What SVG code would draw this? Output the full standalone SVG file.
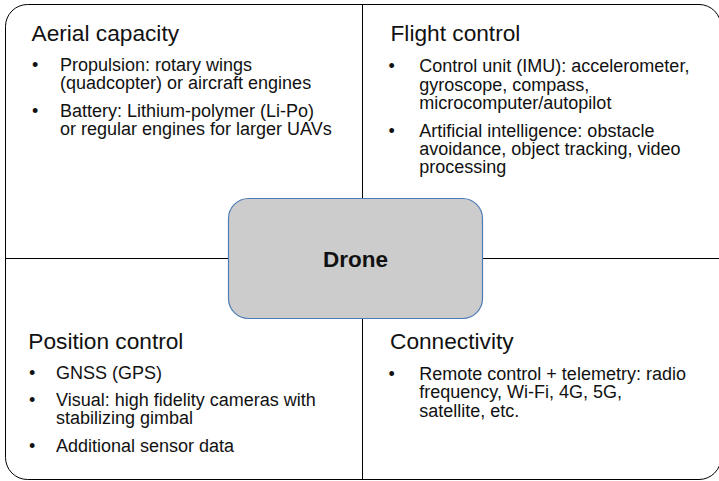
<svg xmlns="http://www.w3.org/2000/svg" width="719" height="481" viewBox="0 0 719 481">
<style>
text{font-family:"Liberation Sans",Arial,sans-serif;fill:#111}
.t{font-size:22.7px}
.b{font-size:18px}
.ln{stroke:#000;stroke-width:1;fill:none}
.hub{fill:#cccccc;stroke:#4f7bb5;stroke-width:1.2}
.lbl{font-size:22.5px;font-weight:bold;text-anchor:middle}
</style>
<rect width="719" height="481" fill="#fff"/>
<g id="connectors">
<rect class="ln" x="5.5" y="4.5" width="715.5" height="475" rx="22" ry="22"/>
<line class="ln" x1="362.5" y1="4.5" x2="362.5" y2="479.5"/>
<line class="ln" x1="5.5" y1="258.5" x2="719" y2="258.5"/>
</g>
<g id="aerial">
<text class="t" x="31.5" y="40.5">Aerial capacity</text>
<text class="b" x="32" y="70.5">•</text>
<text class="b" x="60" y="70.5">Propulsion: rotary wings</text>
<text class="b" x="60" y="89">(quadcopter) or aircraft engines</text>
<text class="b" x="32" y="116.7">•</text>
<text class="b" x="60" y="116.7">Battery: Lithium-polymer (Li-Po)</text>
<text class="b" x="60" y="135">or regular engines for larger UAVs</text>
</g>
<g id="flight">
<text class="t" x="390.5" y="40.5">Flight control</text>
<text class="b" x="388.5" y="71.5">•</text>
<text class="b" x="419.3" y="71.5">Control unit (IMU): accelerometer,</text>
<text class="b" x="419.3" y="90.5">gyroscope, compass,</text>
<text class="b" x="419.3" y="109.3">microcomputer/autopilot</text>
<text class="b" x="388.5" y="136.7">•</text>
<text class="b" x="419.3" y="136.7">Artificial intelligence: obstacle</text>
<text class="b" x="419.3" y="155">avoidance, object tracking, video</text>
<text class="b" x="419.3" y="173.3">processing</text>
</g>
<g id="position">
<text class="t" x="28.3" y="349.3">Position control</text>
<text class="b" x="29" y="379.3">•</text>
<text class="b" x="56" y="379.3">GNSS (GPS)</text>
<text class="b" x="29" y="406">•</text>
<text class="b" x="56" y="406">Visual: high fidelity cameras with</text>
<text class="b" x="56" y="424.3">stabilizing gimbal</text>
<text class="b" x="29" y="451.7">•</text>
<text class="b" x="56" y="451.7">Additional sensor data</text>
</g>
<g id="connectivity">
<text class="t" x="390" y="349.3">Connectivity</text>
<text class="b" x="388.5" y="380">•</text>
<text class="b" x="419.3" y="380">Remote control + telemetry: radio</text>
<text class="b" x="419.3" y="398.3">frequency, Wi-Fi, 4G, 5G,</text>
<text class="b" x="419.3" y="416.7">satellite, etc.</text>
</g>
<g id="drone">
<rect class="hub" x="228.5" y="198.5" width="254" height="120" rx="20" ry="20"/>
<text class="lbl" x="355.5" y="267">Drone</text>
</g>
</svg>
